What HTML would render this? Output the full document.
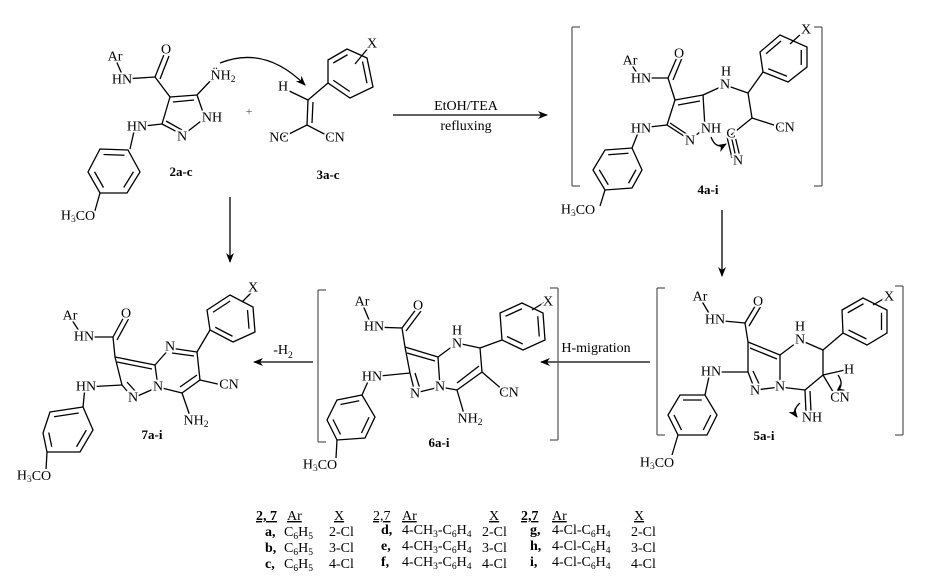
<!DOCTYPE html>
<html><head><meta charset="utf-8"><style>
html,body{margin:0;padding:0;background:#fff}
svg{display:block}
.b line,.b polyline,.b polygon,.b path{stroke:#000;stroke-width:1.3;fill:none}
.k line{stroke:#555;stroke-width:1.2}
text{font-family:"Liberation Serif",serif;font-size:14px;fill:#000}
.a{text-anchor:middle;dominant-baseline:central;paint-order:stroke;stroke:#fff;stroke-width:4px;stroke-linejoin:round}
.l{text-anchor:middle;font-weight:bold;font-size:13px}
.s{font-size:9.5px}
.in line{vector-effect:non-scaling-stroke}
</style></head><body>
<svg width="928" height="584" viewBox="0 0 928 584" xmlns="http://www.w3.org/2000/svg">
<defs><marker id="ah" markerWidth="10" markerHeight="8" refX="9" refY="4" orient="auto" markerUnits="userSpaceOnUse"><path d="M0,0 L10,4 L0,8 L3,4 Z" fill="#000"/></marker></defs>
<g class="b">
<line x1="115" y1="58" x2="124" y2="79"/><line x1="124" y1="79" x2="155" y2="77"/>
<line x1="155" y1="77" x2="165" y2="52"/><line x1="160" y1="79" x2="169" y2="56"/>
<line x1="155" y1="77" x2="170" y2="97"/>
<line x1="170" y1="97" x2="197" y2="95"/><line x1="173" y1="102" x2="194" y2="100"/>
<line x1="197" y1="95" x2="214" y2="77"/><line x1="197" y1="95" x2="205" y2="118"/>
<line x1="205" y1="118" x2="183" y2="135"/><line x1="183" y1="135" x2="162" y2="124"/><line x1="182" y1="130" x2="166" y2="121"/>
<line x1="162" y1="124" x2="170" y2="97"/><line x1="162" y1="124" x2="135" y2="127"/>
<line x1="135" y1="127" x2="130" y2="149"/>
<polygon points="100,149 128,150 140,172 127,193 100,193 88,172"/>
<g class="in" transform="translate(114,171) scale(.75) translate(-114,-171)"><line x1="100" y1="149" x2="128" y2="150"/><line x1="140" y1="172" x2="127" y2="193"/><line x1="100" y1="193" x2="88" y2="172"/></g>
<line x1="100" y1="193" x2="94" y2="214"/>
<path d="M220,63 Q265,45 305,85" marker-end="url(#ah)"/>
<line x1="283" y1="88" x2="308" y2="100"/>
<line x1="308" y1="100" x2="307" y2="125"/><line x1="313" y1="102" x2="312" y2="123"/>
<line x1="307" y1="125" x2="283" y2="137"/><line x1="307" y1="125" x2="330" y2="137"/>
<line x1="308" y1="100" x2="328" y2="83"/>
<polygon points="328,60 347,49 367,58 373,87 350,98 328,83"/>
<g class="in" transform="translate(349,72) scale(.75) translate(-349,-72)"><line x1="328" y1="60" x2="347" y2="49"/><line x1="367" y1="58" x2="373" y2="87"/><line x1="350" y1="98" x2="328" y2="83"/></g>
<line x1="355" y1="64" x2="369" y2="47"/>
<line x1="393" y1="115" x2="547" y2="115" marker-end="url(#ah)"/>
<line x1="630" y1="62" x2="640" y2="78"/><line x1="640" y1="78" x2="668" y2="78"/>
<line x1="668" y1="78" x2="678" y2="55"/><line x1="673" y1="80" x2="682" y2="58"/>
<line x1="668" y1="78" x2="675" y2="100"/>
<line x1="675" y1="100" x2="703" y2="95"/><line x1="678" y1="105" x2="700" y2="101"/>
<line x1="703" y1="95" x2="725" y2="85"/><line x1="725" y1="85" x2="748" y2="93"/>
<line x1="748" y1="93" x2="763" y2="72"/><line x1="748" y1="93" x2="752" y2="118"/>
<line x1="752" y1="118" x2="780" y2="127"/><line x1="752" y1="118" x2="731" y2="135"/>
<line x1="731" y1="135" x2="736" y2="158"/><line x1="727" y1="137" x2="732" y2="158"/><line x1="735" y1="136" x2="740" y2="157"/>
<line x1="703" y1="95" x2="705" y2="128"/><line x1="705" y1="128" x2="690" y2="140"/>
<line x1="690" y1="140" x2="667" y2="125"/><line x1="688" y1="135" x2="670" y2="123"/>
<line x1="667" y1="125" x2="675" y2="100"/><line x1="667" y1="125" x2="640" y2="128"/>
<line x1="640" y1="128" x2="632" y2="148"/>
<polygon points="760,52 780,35 807,47 807,67 788,82 763,72"/>
<g class="in" transform="translate(784,59) scale(.75) translate(-784,-59)"><line x1="760" y1="52" x2="780" y2="35"/><line x1="807" y1="47" x2="807" y2="67"/><line x1="788" y1="82" x2="763" y2="72"/></g>
<line x1="790" y1="44" x2="803" y2="32"/>
<polygon points="605,150 632,148 642,170 632,188 605,190 593,170"/>
<g class="in" transform="translate(618,169) scale(.75) translate(-618,-169)"><line x1="605" y1="150" x2="632" y2="148"/><line x1="642" y1="170" x2="632" y2="188"/><line x1="605" y1="190" x2="593" y2="170"/></g>
<line x1="605" y1="190" x2="600" y2="206"/>
<path d="M711,137 Q716,150 726,144" marker-end="url(#ah)"/>
<line x1="722" y1="210" x2="722" y2="276" marker-end="url(#ah)"/>
<line x1="230" y1="197" x2="230" y2="262" marker-end="url(#ah)"/>
<line x1="700" y1="298" x2="713" y2="320"/><line x1="713" y1="320" x2="745" y2="323"/>
<line x1="745" y1="323" x2="757" y2="303"/><line x1="749" y1="326" x2="761" y2="306"/>
<line x1="745" y1="323" x2="748" y2="342"/>
<line x1="748" y1="342" x2="780" y2="355"/><line x1="750" y1="348" x2="777" y2="359"/>
<line x1="780" y1="355" x2="800" y2="340"/><line x1="800" y1="340" x2="823" y2="350"/>
<line x1="823" y1="350" x2="843" y2="333"/><line x1="823" y1="350" x2="823" y2="375"/>
<line x1="823" y1="375" x2="845" y2="370"/><line x1="823" y1="375" x2="835" y2="395"/>
<line x1="823" y1="375" x2="805" y2="390"/>
<line x1="805" y1="390" x2="806" y2="413"/><line x1="810" y1="391" x2="811" y2="412"/>
<line x1="805" y1="390" x2="780" y2="387"/><line x1="780" y1="387" x2="780" y2="355"/>
<line x1="780" y1="387" x2="755" y2="390"/>
<line x1="755" y1="390" x2="748" y2="372"/><line x1="760" y1="386" x2="753" y2="371"/>
<line x1="748" y1="372" x2="748" y2="342"/><line x1="748" y1="372" x2="710" y2="372"/>
<line x1="710" y1="372" x2="705" y2="395"/>
<polygon points="842,310 863,298 887,310 887,333 867,345 843,333"/>
<g class="in" transform="translate(865,321) scale(.75) translate(-865,-321)"><line x1="842" y1="310" x2="863" y2="298"/><line x1="887" y1="310" x2="887" y2="333"/><line x1="867" y1="345" x2="843" y2="333"/></g>
<line x1="873" y1="305" x2="885" y2="298"/>
<polygon points="680,395 705,395 717,415 707,435 678,435 668,415"/>
<g class="in" transform="translate(692,415) scale(.75) translate(-692,-415)"><line x1="680" y1="395" x2="705" y2="395"/><line x1="717" y1="415" x2="707" y2="435"/><line x1="678" y1="435" x2="668" y2="415"/></g>
<line x1="678" y1="435" x2="672" y2="455"/>
<path d="M838,375 Q845,385 836,393" marker-end="url(#ah)"/>
<path d="M800,403 Q792,410 797,417" marker-end="url(#ah)"/>
<line x1="650" y1="362" x2="541" y2="362" marker-end="url(#ah)"/>
<line x1="362" y1="303" x2="372" y2="327"/><line x1="372" y1="327" x2="402" y2="328"/>
<line x1="402" y1="328" x2="417" y2="308"/><line x1="406" y1="331" x2="421" y2="311"/>
<line x1="402" y1="328" x2="405" y2="347"/>
<line x1="405" y1="347" x2="438" y2="357"/><line x1="407" y1="353" x2="435" y2="361"/>
<line x1="438" y1="357" x2="457" y2="343"/><line x1="457" y1="343" x2="480" y2="348"/>
<line x1="480" y1="348" x2="502" y2="340"/><line x1="480" y1="348" x2="482" y2="372"/>
<line x1="482" y1="372" x2="504" y2="391"/>
<line x1="482" y1="372" x2="457" y2="390"/><line x1="479" y1="366" x2="457" y2="383"/>
<line x1="457" y1="390" x2="464" y2="414"/>
<line x1="457" y1="390" x2="440" y2="387"/><line x1="440" y1="387" x2="438" y2="357"/>
<line x1="440" y1="387" x2="415" y2="393"/>
<line x1="415" y1="393" x2="410" y2="373"/><line x1="420" y1="389" x2="415" y2="373"/>
<line x1="410" y1="373" x2="405" y2="347"/><line x1="410" y1="373" x2="370" y2="377"/>
<line x1="370" y1="377" x2="362" y2="395"/>
<polygon points="500,313 522,303 543,313 545,340 523,350 502,340"/>
<g class="in" transform="translate(522,326) scale(.75) translate(-522,-326)"><line x1="500" y1="313" x2="522" y2="303"/><line x1="543" y1="313" x2="545" y2="340"/><line x1="523" y1="350" x2="502" y2="340"/></g>
<line x1="532" y1="310" x2="545" y2="302"/>
<polygon points="337,400 362,395 375,417 365,438 337,440 327,420"/>
<g class="in" transform="translate(351,418) scale(.75) translate(-351,-418)"><line x1="337" y1="400" x2="362" y2="395"/><line x1="375" y1="417" x2="365" y2="438"/><line x1="337" y1="440" x2="327" y2="420"/></g>
<line x1="337" y1="440" x2="336" y2="458"/>
<line x1="313" y1="362" x2="254" y2="362" marker-end="url(#ah)"/>
<line x1="70" y1="317" x2="83" y2="337"/><line x1="83" y1="337" x2="113" y2="337"/>
<line x1="113" y1="337" x2="125" y2="315"/><line x1="117" y1="340" x2="129" y2="318"/>
<line x1="113" y1="337" x2="115" y2="357"/>
<line x1="115" y1="357" x2="155" y2="365"/><line x1="117" y1="362" x2="152" y2="369"/>
<line x1="155" y1="365" x2="170" y2="348"/>
<line x1="170" y1="348" x2="197" y2="352"/><line x1="172" y1="353" x2="194" y2="356"/>
<line x1="197" y1="352" x2="210" y2="330"/><line x1="197" y1="352" x2="200" y2="380"/>
<line x1="200" y1="380" x2="222" y2="385"/>
<line x1="200" y1="380" x2="182" y2="393"/><line x1="197" y1="375" x2="180" y2="387"/>
<line x1="182" y1="393" x2="190" y2="416"/>
<line x1="182" y1="393" x2="158" y2="387"/><line x1="158" y1="387" x2="155" y2="365"/>
<line x1="158" y1="387" x2="133" y2="398"/>
<line x1="133" y1="398" x2="122" y2="385"/><line x1="137" y1="393" x2="127" y2="382"/>
<line x1="122" y1="385" x2="115" y2="357"/><line x1="122" y1="385" x2="85" y2="387"/>
<line x1="85" y1="387" x2="83" y2="407"/>
<polygon points="207,310 230,295 253,307 255,332 233,342 210,330"/>
<g class="in" transform="translate(231,319) scale(.75) translate(-231,-319)"><line x1="207" y1="310" x2="230" y2="295"/><line x1="253" y1="307" x2="255" y2="332"/><line x1="233" y1="342" x2="210" y2="330"/></g>
<line x1="242" y1="302" x2="252" y2="292"/>
<polygon points="50,412 83,407 93,430 80,452 47,452 43,433"/>
<g class="in" transform="translate(66,431) scale(.75) translate(-66,-431)"><line x1="50" y1="412" x2="83" y2="407"/><line x1="93" y1="430" x2="80" y2="452"/><line x1="47" y1="452" x2="43" y2="433"/></g>
<line x1="47" y1="452" x2="46" y2="470"/>
</g>
<g class="k">
<line x1="572" y1="27" x2="572" y2="186"/><line x1="572" y1="27" x2="580" y2="27"/><line x1="572" y1="186" x2="580" y2="186"/>
<line x1="822" y1="27" x2="822" y2="186"/><line x1="814" y1="27" x2="822" y2="27"/><line x1="814" y1="186" x2="822" y2="186"/>
<line x1="657" y1="288" x2="657" y2="435"/><line x1="657" y1="288" x2="665" y2="288"/><line x1="657" y1="435" x2="665" y2="435"/>
<line x1="903" y1="286" x2="903" y2="435"/><line x1="895" y1="286" x2="903" y2="286"/><line x1="895" y1="435" x2="903" y2="435"/>
<line x1="318" y1="290" x2="318" y2="442"/><line x1="318" y1="290" x2="326" y2="290"/><line x1="318" y1="442" x2="326" y2="442"/>
<line x1="558" y1="288" x2="558" y2="440"/><line x1="550" y1="288" x2="558" y2="288"/><line x1="550" y1="440" x2="558" y2="440"/>
</g>
<g>
<text class="a" x="115" y="57">Ar</text><text class="a" x="122" y="80">HN</text><text class="a" x="166" y="50">O</text>
<text class="a" x="223" y="76">N&#776;H<tspan class="s" dy="4">2</tspan></text>
<text class="a" x="212" y="118">NH</text><text class="a" x="182" y="137">N</text><text class="a" x="137" y="127">HN</text>
<text class="a" x="78" y="216">H<tspan class="s" dy="4">3</tspan><tspan dy="-4">CO</tspan></text>
<text class="l" x="181" y="176">2a-c</text>
<text x="249" y="115" style="font-size:12px;fill:#555" text-anchor="middle">+</text>
<text class="a" x="283" y="87">H</text><text class="a" x="279" y="138">NC</text><text class="a" x="335" y="138">CN</text>
<text class="a" x="372" y="44">X</text><text class="l" x="328" y="179">3a-c</text>
<text x="466" y="110" text-anchor="middle">EtOH/TEA</text><text x="466" y="130" text-anchor="middle">refluxing</text>
<text class="a" x="630" y="61">Ar</text><text class="a" x="641" y="79">HN</text><text class="a" x="679" y="54">O</text>
<text class="a" x="726" y="72">H</text><text class="a" x="725" y="85">N</text><text class="a" x="806" y="30">X</text>
<text class="a" x="785" y="128">CN</text><text class="a" x="731" y="134">C</text><text class="a" x="738" y="161">N</text>
<text class="a" x="711" y="129">NH</text><text class="a" x="690" y="141">N</text><text class="a" x="641" y="129">HN</text>
<text class="a" x="578" y="210">H<tspan class="s" dy="4">3</tspan><tspan dy="-4">CO</tspan></text>
<text class="l" x="708" y="194">4a-i</text>
<text class="a" x="700" y="297">Ar</text><text class="a" x="715" y="320">HN</text><text class="a" x="758" y="302">O</text>
<text class="a" x="800" y="327">H</text><text class="a" x="800" y="340">N</text><text class="a" x="889" y="297">X</text>
<text class="a" x="849" y="370">H</text><text class="a" x="840" y="398">CN</text>
<text class="a" x="812" y="418">NH</text><text class="a" x="780" y="387">N</text><text class="a" x="755" y="391">N</text>
<text class="a" x="711" y="372">HN</text>
<text class="a" x="657" y="463">H<tspan class="s" dy="4">3</tspan><tspan dy="-4">CO</tspan></text>
<text class="l" x="764" y="440">5a-i</text>
<text x="596" y="352" text-anchor="middle">H-migration</text>
<text class="a" x="362" y="302">Ar</text><text class="a" x="374" y="327">HN</text><text class="a" x="418" y="306">O</text>
<text class="a" x="457" y="331">H</text><text class="a" x="457" y="344">N</text><text class="a" x="548" y="302">X</text>
<text class="a" x="509" y="393">CN</text><text class="a" x="470" y="419">NH<tspan class="s" dy="4">2</tspan></text>
<text class="a" x="440" y="387">N</text><text class="a" x="415" y="394">N</text><text class="a" x="372" y="377">HN</text>
<text class="a" x="320" y="465">H<tspan class="s" dy="4">3</tspan><tspan dy="-4">CO</tspan></text>
<text class="l" x="439" y="447">6a-i</text>
<text x="283" y="354" text-anchor="middle">-H<tspan class="s" dy="4">2</tspan></text>
<text class="a" x="70" y="316">Ar</text><text class="a" x="84" y="337">HN</text><text class="a" x="126" y="314">O</text>
<text class="a" x="170" y="347">N</text><text class="a" x="253" y="288">X</text>
<text class="a" x="229" y="385">CN</text><text class="a" x="196" y="421">NH<tspan class="s" dy="4">2</tspan></text>
<text class="a" x="158" y="387">N</text><text class="a" x="133" y="398">N</text><text class="a" x="86" y="387">HN</text>
<text class="a" x="34" y="476">H<tspan class="s" dy="4">3</tspan><tspan dy="-4">CO</tspan></text>
<text class="l" x="152" y="439">7a-i</text>
</g>
<g style="font-size:13px">
<text x="256" y="520" font-weight="bold" text-decoration="underline">2, 7</text>
<text x="287" y="520" text-decoration="underline">Ar</text><text x="334" y="520" text-decoration="underline">X</text>
<text x="265" y="536" font-weight="bold">a,</text><text x="284" y="536">C<tspan class="s" dy="3">6</tspan><tspan dy="-3">H</tspan><tspan class="s" dy="3">5</tspan></text><text x="329" y="536">2-Cl</text>
<text x="265" y="552" font-weight="bold">b,</text><text x="284" y="552">C<tspan class="s" dy="3">6</tspan><tspan dy="-3">H</tspan><tspan class="s" dy="3">5</tspan></text><text x="329" y="552">3-Cl</text>
<text x="265" y="568" font-weight="bold">c,</text><text x="284" y="568">C<tspan class="s" dy="3">6</tspan><tspan dy="-3">H</tspan><tspan class="s" dy="3">5</tspan></text><text x="329" y="568">4-Cl</text>
<text x="373" y="520" text-decoration="underline">2,7</text>
<text x="402" y="520" text-decoration="underline">Ar</text><text x="489" y="520" text-decoration="underline">X</text>
<text x="381" y="534" font-weight="bold">d,</text><text x="402" y="534">4-CH<tspan class="s" dy="3">3</tspan><tspan dy="-3">-C</tspan><tspan class="s" dy="3">6</tspan><tspan dy="-3">H</tspan><tspan class="s" dy="3">4</tspan></text><text x="482" y="536">2-Cl</text>
<text x="381" y="550" font-weight="bold">e,</text><text x="402" y="550">4-CH<tspan class="s" dy="3">3</tspan><tspan dy="-3">-C</tspan><tspan class="s" dy="3">6</tspan><tspan dy="-3">H</tspan><tspan class="s" dy="3">4</tspan></text><text x="482" y="552">3-Cl</text>
<text x="381" y="566" font-weight="bold">f,</text><text x="402" y="566">4-CH<tspan class="s" dy="3">3</tspan><tspan dy="-3">-C</tspan><tspan class="s" dy="3">6</tspan><tspan dy="-3">H</tspan><tspan class="s" dy="3">4</tspan></text><text x="482" y="568">4-Cl</text>
<text x="521" y="520" font-weight="bold" text-decoration="underline">2,7</text>
<text x="552" y="520" text-decoration="underline">Ar</text><text x="634" y="520" text-decoration="underline">X</text>
<text x="530" y="534" font-weight="bold">g,</text><text x="552" y="534">4-Cl-C<tspan class="s" dy="3">6</tspan><tspan dy="-3">H</tspan><tspan class="s" dy="3">4</tspan></text><text x="631" y="536">2-Cl</text>
<text x="530" y="550" font-weight="bold">h,</text><text x="552" y="550">4-Cl-C<tspan class="s" dy="3">6</tspan><tspan dy="-3">H</tspan><tspan class="s" dy="3">4</tspan></text><text x="631" y="552">3-Cl</text>
<text x="530" y="566" font-weight="bold">i,</text><text x="552" y="566">4-Cl-C<tspan class="s" dy="3">6</tspan><tspan dy="-3">H</tspan><tspan class="s" dy="3">4</tspan></text><text x="631" y="568">4-Cl</text>
</g>
</svg>
</body></html>
